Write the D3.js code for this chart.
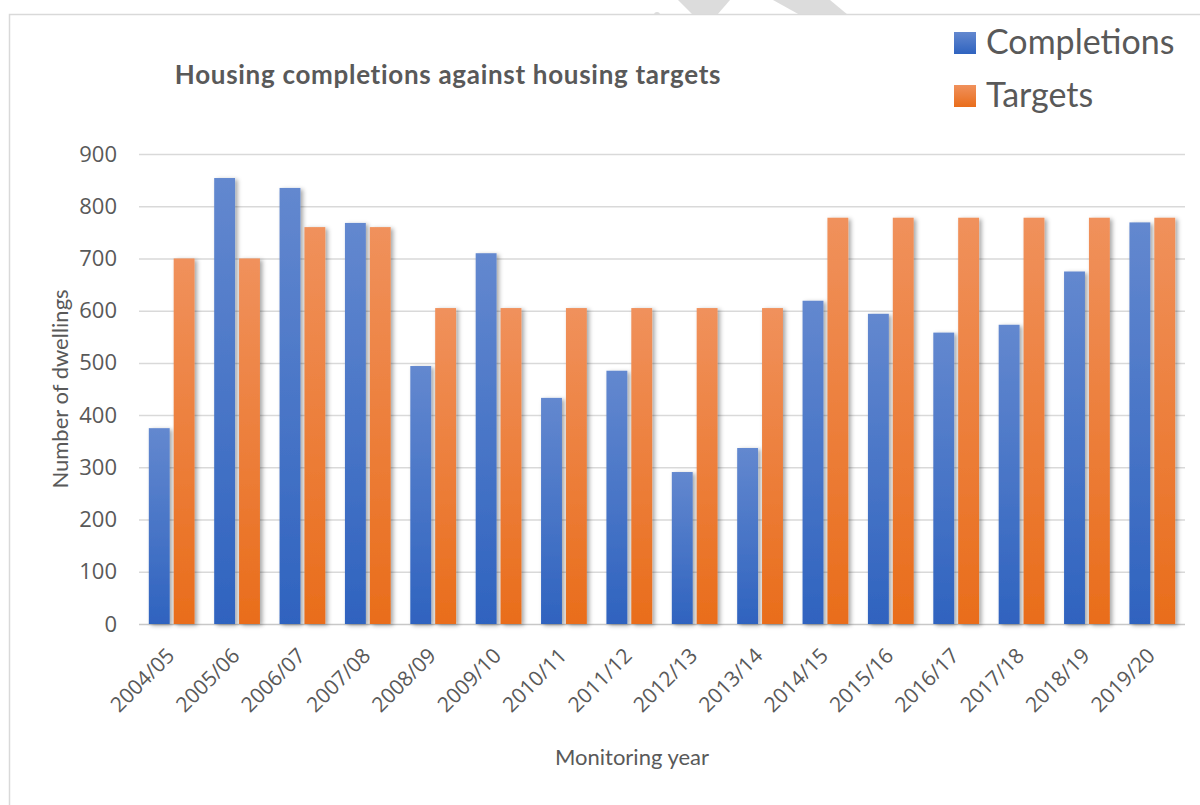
<!DOCTYPE html>
<html lang="en">
    <head>
        <meta charset="utf-8">
        <title>housing</title>
        <script type="text/javascript" src="https://cdn.jsdelivr.net/npm/d3@7/dist/d3.min.js"></script>
		<style>
		body {margin: 0; background: white}
		text {fill: #595959}
		.tick text {font-family: "Open Sans", sans-serif}
		.titre {font-family: Lato, sans-serif}
		</style>
    </head>
    <body>
		<svg width="1200" height="805"></svg>

		<script type="text/javascript">
		const years = ["2004/05", "2005/06", "2006/07", "2007/08", "2008/09", "2009/10", "2010/11", "2011/12",
		               "2012/13", "2013/14", "2014/15", "2015/16", "2016/17", "2017/18", "2018/19", "2019/20"];
		const completions = [375, 854, 835, 768, 494, 710, 433, 485, 291, 337, 619, 594, 558, 573, 675, 769];
		const targets = [700, 700, 760, 760, 605, 605, 605, 605, 605, 605, 778, 778, 778, 778, 778, 778];
		const series = ["Completions", "Targets"];
		const yTicks = [0, 100, 200, 300, 400, 500, 600, 700, 800, 900];

		const rows = years.map(function (annee, i) {
			return {annee: annee, valeurs: [completions[i], targets[i]]}
		});

		var svg = d3.select("svg");

		/// filigrane (watermark) en haut
		svg.append("g")
			.attr("fill", "#dcdcdc")
			.selectAll("polygon")
			.data([[[678, 0], [730, 0], [717, 15], [693, 15]],
			       [[773, 0], [830, 0], [848, 15], [800, 15]]])
			.enter()
			.append("polygon")
				.attr("points", function (d) {return d.join(" ")});
		svg.append("circle").attr("cx", 657).attr("cy", 15).attr("r", 3).attr("fill", "#dcdcdc");

		/// cadre
		svg.append("rect")
			.attr("x", 9.5).attr("y", 14.5)
			.attr("width", 1200).attr("height", 800)
			.attr("fill", "white")
			.attr("stroke", "#d9d9d9")
			.attr("stroke-width", 1.5);

		/// dégradés + ombre
		var defs = svg.append("defs");
		var grads = [["gradC", "#6388cf", "#2f63bf"], ["gradT", "#f0915c", "#e96d1b"]];
		grads.forEach(function (g) {
			var lg = defs.append("linearGradient").attr("id", g[0])
				.attr("x1", 0).attr("y1", 0).attr("x2", 0).attr("y2", 1);
			lg.append("stop").attr("offset", "0%").attr("stop-color", g[1]);
			lg.append("stop").attr("offset", "100%").attr("stop-color", g[2]);
		});
		defs.append("filter").attr("id", "ombre")
			.attr("x", "-30%").attr("y", "-10%").attr("width", "170%").attr("height", "130%")
			.append("feDropShadow")
				.attr("dx", 2.5).attr("dy", 1.5).attr("stdDeviation", 2)
				.attr("flood-color", "#000").attr("flood-opacity", 0.35);

		var x0 = d3.scaleBand()
			.domain(years)
			.range([139, 1185])
			.paddingInner(0.3)
			.paddingOuter(0.15);

		var x1 = d3.scaleBand()
			.domain(series)
			.range([0, x0.bandwidth()])
			.paddingInner(0.16);

		var y = d3.scaleLinear()
			.domain([0, 900])
			.range([624, 154]);

		var couleurs = d3.scaleOrdinal().domain(series).range(["url(#gradC)", "url(#gradT)"]);

		/// grille + axe Y
		var axeY = svg.append("g")
			.attr("transform", "translate(139,0)")
			.call(d3.axisLeft(y).tickValues(yTicks).tickSize(-1046).tickPadding(22));
		axeY.select(".domain").remove();
		axeY.selectAll(".tick line")
			.attr("stroke", function (d) {return d === 0 ? "#c8c8c8" : "#d9d9d9"})
			.attr("stroke-width", 1.5);
		axeY.selectAll(".tick text")
			.attr("font-size", 22)
			.attr("fill", "#595959");

		/// barres
		svg.append("g")
			.selectAll("g")
			.data(rows)
			.enter()
			.append("g")
				.attr("transform", function (d) {return "translate(" + x0(d.annee) + ",0)"})
			.selectAll("rect")
			.data(function (d) {
				return series.map(function (s, i) {return {serie: s, valeur: d.valeurs[i]}})
			})
			.enter()
			.append("rect")
				.attr("x", function (d) {return x1(d.serie)})
				.attr("y", function (d) {return y(d.valeur)})
				.attr("width", x1.bandwidth())
				.attr("height", function (d) {return y(0) - y(d.valeur)})
				.attr("fill", function (d) {return couleurs(d.serie)})
				.attr("filter", "url(#ombre)");

		/// axe X
		var axeX = svg.append("g")
			.attr("transform", "translate(0,624)")
			.call(d3.axisBottom(x0).tickSize(0).tickPadding(0));
		axeX.select(".domain").remove();
		axeX.selectAll(".tick text")
			.attr("font-size", 21)
			.attr("fill", "#595959")
			.attr("text-anchor", "end")
			.attr("dy", 0)
			.attr("transform", "translate(4,33) rotate(-45)");

		/// titres
		svg.append("text")
			.classed("titre", true)
			.attr("x", 448).attr("y", 84)
			.attr("text-anchor", "middle")
			.attr("font-size", 26)
			.attr("letter-spacing", 0.7)
			.attr("font-weight", "bold")
			.text("Housing completions against housing targets");

		svg.append("text")
			.classed("titre", true)
			.attr("transform", "translate(68,389) rotate(-90)")
			.attr("text-anchor", "middle")
			.attr("font-size", 22)
			.text("Number of dwellings");

		svg.append("text")
			.classed("titre", true)
			.attr("x", 632).attr("y", 765)
			.attr("text-anchor", "middle")
			.attr("font-size", 22)
			.text("Monitoring year");

		/// légende
		var legende = svg.append("g")
			.selectAll("g")
			.data(series)
			.enter()
			.append("g")
				.attr("transform", function (d, i) {return "translate(954," + (32 + i * 53) + ")"});
		legende.append("rect")
			.attr("width", 22).attr("height", 22)
			.attr("fill", function (d) {return couleurs(d)});
		legende.append("text")
			.classed("titre", true)
			.attr("x", 32).attr("y", 22)
			.attr("font-size", 34)
			.text(function (d) {return d});
        </script>
    </body>
</html>
